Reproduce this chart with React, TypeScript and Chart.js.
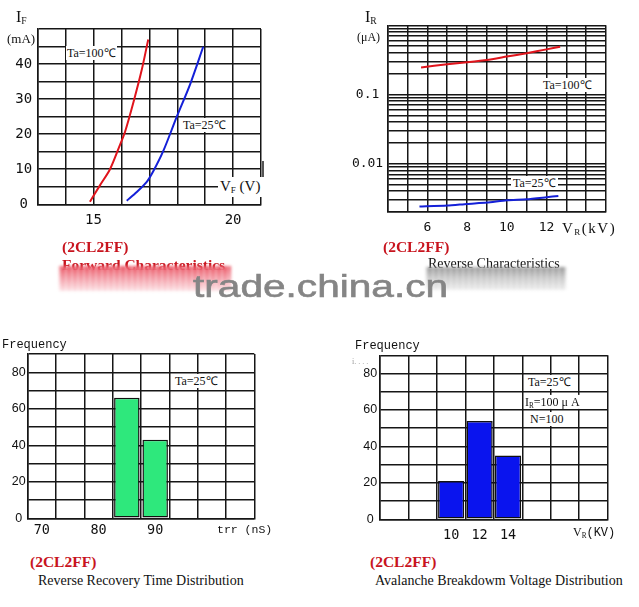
import React, { useEffect, useRef } from "react";
import Chart from "chart.js/auto";

// ---------- Forward characteristics (IF vs VF) ----------
const vfTicksShown = [15, 20];
const ifTicksShown = [0, 10, 20, 30, 40];
const vf100 = [14.87, 15.23, 15.59, 15.93, 16.13, 16.43, 16.73, 16.96];
const if100 = [0.7, 5.4, 10, 16.6, 20.7, 29.1, 38.4, 47];
const vf25 = [16.19, 16.55, 16.9, 17.14, 17.5, 17.98, 18.46, 18.93];
const if25 = [1.0, 3.5, 6.3, 9.4, 15.2, 24.9, 34.2, 44.9];

// ---------- Reverse characteristics (IR vs VR, log) ----------
const vrTicksShown = [6, 8, 10, 12];
const irGrid = [
  0.002, 0.003, 0.004, 0.005, 0.006, 0.007, 0.008, 0.009,
  0.01, 0.02, 0.03, 0.04, 0.05, 0.06, 0.07, 0.08, 0.09,
  0.1, 0.2, 0.3, 0.4, 0.5, 0.6, 0.7, 0.8, 0.9, 1,
];
const irTicksShown = [0.1, 0.01];
const vr100 = [5.68, 7, 8, 9, 10, 11, 12, 12.69];
const ir100 = [0.246, 0.274, 0.293, 0.316, 0.353, 0.394, 0.449, 0.49];
const vr25 = [5.6, 7, 8, 9, 10, 11, 12, 12.6];
const ir25 = [0.0024, 0.00248, 0.00262, 0.00274, 0.00296, 0.00306, 0.00327, 0.00341];

// ---------- Reverse recovery time distribution ----------
const trrBins = ["70", "75", "80", "85", "90", "95", "100", "105"];
const trrFreq = [null, null, null, 66, 43, null, null, null];
const trrTicksShown = ["70", "80", "90"];

// ---------- Avalanche breakdown voltage distribution ----------
const vbrBins = ["6", "8", "10", "12", "14", "16", "18", "20"];
const vbrFreq = [null, null, 21, 54, 35, null, null, null];
const vbrTicksShown = ["10", "12", "14"];

const freqTicksShown = [0, 20, 40, 60, 80];

const SERIF = "'Liberation Serif', 'Times New Roman', serif";
const SANS = "'Liberation Sans', Arial, sans-serif";
const MONO = "'DejaVu Sans Mono', monospace";
const CMONO = "'Liberation Mono', 'Courier New', monospace";
const GRID = "#161616";
const GW = 1.5;
const RED = "#c8141e";

const gridOpts = { color: GRID, lineWidth: GW, drawTicks: false };
const borderOpts = { color: GRID, width: GW };

function base(pad: { top: number; right: number }) {
  return {
    animation: false as const,
    responsive: false,
    events: [] as any[],
    layout: { padding: { left: 0, top: pad.top, right: pad.right, bottom: 0 } },
    plugins: { legend: { display: false }, tooltip: { enabled: false } },
  };
}

function forwardConfig(): any {
  return {
    type: "scatter",
    data: {
      datasets: [
        {
          data: vf100.map((x, i) => ({ x, y: if100[i] })),
          showLine: true,
          borderColor: "#e0141c",
          borderWidth: 2,
          pointRadius: 0,
          tension: 0.3,
        },
        {
          data: vf25.map((x, i) => ({ x, y: if25[i] })),
          showLine: true,
          borderColor: "#1420d8",
          borderWidth: 2,
          pointRadius: 0,
          tension: 0.3,
        },
      ],
    },
    options: {
      ...base({ top: 10, right: 14 }),
      scales: {
        x: {
          type: "linear",
          min: 13,
          max: 21,
          grid: gridOpts,
          border: borderOpts,
          ticks: {
            stepSize: 1,
            autoSkip: false,
            maxRotation: 0,
            padding: 7.3,
            color: "#111",
            font: { family: MONO, size: 14 },
            callback: (v: number) => (vfTicksShown.includes(v) ? String(v) : ""),
          },
          afterFit: (s: any) => {
            s.height = 40.7;
          },
        },
        y: {
          type: "linear",
          min: 0,
          max: 50,
          grid: gridOpts,
          border: borderOpts,
          ticks: {
            stepSize: 5,
            autoSkip: false,
            crossAlign: "center",
            padding: 5.5,
            color: "#111",
            font: { family: MONO, size: 14 },
            callback: (v: number) => (ifTicksShown.includes(v) ? String(v) : ""),
          },
          afterFit: (s: any) => {
            s.width = 37.7;
          },
        },
      },
    },
  };
}

function reverseConfig(): any {
  return {
    type: "scatter",
    data: {
      datasets: [
        {
          data: vr100.map((x, i) => ({ x, y: ir100[i] })),
          showLine: true,
          borderColor: "#e0141c",
          borderWidth: 2,
          pointRadius: 0,
          tension: 0.2,
        },
        {
          data: vr25.map((x, i) => ({ x, y: ir25[i] })),
          showLine: true,
          borderColor: "#1420d8",
          borderWidth: 2,
          pointRadius: 0,
          tension: 0.2,
        },
      ],
    },
    options: {
      ...base({ top: 10.3, right: 14 }),
      scales: {
        x: {
          type: "linear",
          min: 4,
          max: 15,
          grid: gridOpts,
          border: borderOpts,
          ticks: {
            stepSize: 1,
            autoSkip: false,
            maxRotation: 0,
            padding: 8.2,
            color: "#111",
            font: { family: MONO, size: 13 },
            callback: (v: number) => (vrTicksShown.includes(v) ? String(v) : ""),
          },
          afterFit: (s: any) => {
            s.height = 33;
          },
        },
        y: {
          type: "logarithmic",
          min: 0.002,
          max: 1,
          grid: gridOpts,
          border: borderOpts,
          afterBuildTicks: (s: any) => {
            s.ticks = irGrid.map((value) => ({ value }));
          },
          ticks: {
            autoSkip: false,
            crossAlign: "center",
            padding: 4.5,
            color: "#111",
            font: { family: MONO, size: 13 },
            callback: (v: number) => {
              const hit = irTicksShown.find((t) => Math.abs(t - v) < 1e-9);
              return hit !== undefined ? String(hit) : "";
            },
          },
          afterFit: (s: any) => {
            s.width = 47.7;
          },
        },
      },
    },
  };
}

function histConfig(
  labels: string[],
  values: (number | null)[],
  shown: string[],
  color: string,
  o: { right: number; yWidth: number; xHeight: number; xPad: number; yPad: number; barPct: number }
): any {
  return {
    type: "bar",
    data: {
      labels,
      datasets: [
        {
          data: values,
          backgroundColor: color,
          borderColor: "#111",
          borderWidth: 1.5,
          borderSkipped: false,
          barPercentage: o.barPct,
          categoryPercentage: 1,
        },
      ],
    },
    options: {
      ...base({ top: 10, right: o.right }),
      scales: {
        x: {
          grid: { ...gridOpts, offset: true },
          border: borderOpts,
          ticks: {
            autoSkip: false,
            maxRotation: 0,
            padding: o.xPad,
            color: "#111",
            font: { family: MONO, size: 13.5 },
            callback: function (this: any, v: number) {
              const lab = this.getLabelForValue(v);
              return shown.includes(lab) ? lab : "";
            },
          },
          afterFit: (s: any) => {
            s.height = o.xHeight;
          },
        },
        y: {
          min: 0,
          max: 90,
          grid: gridOpts,
          border: borderOpts,
          ticks: {
            stepSize: 10,
            autoSkip: false,
            crossAlign: "center",
            padding: o.yPad,
            color: "#111",
            font: { family: SANS, size: 12.5 },
            callback: (v: number) => (freqTicksShown.includes(v) ? String(v) : ""),
          },
          afterFit: (s: any) => {
            s.width = o.yWidth;
          },
        },
      },
    },
  };
}

function ChartCanvas(props: { left: number; top: number; width: number; height: number; make: () => any }) {
  const ref = useRef<HTMLCanvasElement>(null);
  useEffect(() => {
    const chart = new Chart(ref.current as HTMLCanvasElement, props.make());
    return () => chart.destroy();
  }, []);
  return (
    <canvas
      ref={ref}
      width={props.width}
      height={props.height}
      style={{ position: "absolute", left: props.left, top: props.top, width: props.width, height: props.height }}
    />
  );
}

function T(props: {
  x: number;
  y: number;
  size?: number;
  family?: string;
  color?: string;
  bg?: string;
  weight?: any;
  extra?: React.CSSProperties;
  children: React.ReactNode;
}) {
  return (
    <div
      style={{
        position: "absolute",
        left: props.x,
        top: props.y,
        transform: "translateY(-50%)",
        fontFamily: props.family ?? SERIF,
        fontSize: props.size ?? 12,
        lineHeight: 1,
        color: props.color ?? "#111",
        background: props.bg,
        fontWeight: props.weight ?? "normal",
        whiteSpace: "nowrap",
        ...props.extra,
      }}
    >
      {props.children}
    </div>
  );
}

const Sub = ({ c }: { c: string }) => (
  <span style={{ fontSize: "0.6em", position: "relative", top: "0.25em" }}>{c}</span>
);

const streaks = "repeating-linear-gradient(90deg, rgba(255,255,255,0.35) 0 2px, rgba(255,255,255,0) 2px 6px)";

export default function App() {
  return (
    <div
      style={{
        position: "absolute",
        left: 0,
        top: 0,
        width: 639,
        height: 607,
        background: "#fff",
        overflow: "hidden",
      }}
    >
      <ChartCanvas left={0} top={15} width={275} height={230} make={forwardConfig} />
      <ChartCanvas left={340} top={13} width={280} height={232} make={reverseConfig} />
      <ChartCanvas
        left={0}
        top={344}
        width={270}
        height={200}
        make={() =>
          histConfig(trrBins, trrFreq, trrTicksShown, "#2ee87c", {
            right: 15.7,
            yWidth: 27.7,
            xHeight: 25.7,
            xPad: 3.6,
            yPad: 2,
            barPct: 0.9,
          })
        }
      />
      <ChartCanvas
        left={340}
        top={345}
        width={285}
        height={200}
        make={() =>
          histConfig(vbrBins, vbrFreq, vbrTicksShown, "#0a14ee", {
            right: 17.3,
            yWidth: 40,
            xHeight: 25.7,
            xPad: 7.6,
            yPad: 2.8,
            barPct: 0.92,
          })
        }
      />

      {/* Forward characteristics annotations */}
      <T x={16} y={17} size={16}>
        I<Sub c="F" />
      </T>
      <T x={7} y={38} size={13}>(mA)</T>
      <T x={66} y={53} size={12} bg="#fff" extra={{ padding: "1px 1px" }}>Ta=100℃</T>
      <T x={182} y={125} size={12} bg="#fff" extra={{ padding: "1px 1px" }}>Ta=25℃</T>
      <T x={218} y={187} size={15} bg="#fff" extra={{ padding: "2px 3px 3px 2px" }}>
        V<Sub c="F" /> (V)
      </T>
      <div style={{ position: "absolute", left: 262, top: 161, width: 2, height: 16, background: "#555" }} />

      {/* Reverse characteristics annotations */}
      <T x={365} y={17} size={16}>
        I<Sub c="R" />
      </T>
      <T x={357} y={37} size={12}>(μA)</T>
      <T x={541} y={85} size={12} bg="#fff" extra={{ padding: "1px 2px" }}>Ta=100℃</T>
      <T x={511} y={183} size={12} bg="#fff" extra={{ padding: "1px 2px" }}>Ta=25℃</T>
      <T x={562} y={228} size={15} extra={{ letterSpacing: 1.5 }}>
        V<Sub c="R" />(kV)
      </T>

      {/* Recovery time histogram annotations */}
      <T x={2} y={345} size={12} family={CMONO}>Frequency</T>
      <T x={174} y={381} size={12} bg="#fff" extra={{ padding: "1px 1px" }}>Ta=25℃</T>
      <T x={217} y={530} size={11.5} family={CMONO}>trr (nS)</T>

      {/* Breakdown voltage histogram annotations */}
      <T x={355} y={346} size={12} family={CMONO}>Frequency</T>
      <T x={352} y={362} size={8} color="#999">i. . . .</T>
      <T x={527} y={382} size={12} bg="#fff" extra={{ padding: "1px 1px" }}>Ta=25℃</T>
      <T x={524} y={402} size={12} bg="#fff" extra={{ padding: "1px 1px" }}>
        I<Sub c="R" />=100 μ A
      </T>
      <T x={529} y={419} size={12} bg="#fff" extra={{ padding: "1px 1px" }}>N=100</T>
      <T x={573} y={532} size={12}>
        V<Sub c="R" />
        <span style={{ fontFamily: CMONO }}>(KV)</span>
      </T>

      {/* Captions */}
      <T x={62} y={247} size={15.5} color={RED} weight="bold">(2CL2FF)</T>
      <T x={62} y={265} size={15.5} color={RED} weight="bold">Forward Characteristics</T>
      <div
        style={{
          position: "absolute",
          left: 59,
          top: 266,
          width: 172,
          height: 25,
          background:
            streaks +
            ", linear-gradient(to bottom, rgba(232,70,86,0.95), rgba(240,125,138,0.8) 45%, rgba(250,200,206,0.55))",
          filter: "blur(1.5px)",
        }}
      />
      <T x={383} y={247} size={15.5} color={RED} weight="bold">(2CL2FF)</T>
      <T x={428} y={264} size={14}>Reverse Characteristics</T>
      <div
        style={{
          position: "absolute",
          left: 426,
          top: 267,
          width: 140,
          height: 23,
          background:
            streaks +
            ", linear-gradient(to bottom, rgba(140,140,140,0.9), rgba(180,180,180,0.75) 45%, rgba(222,222,222,0.55))",
          filter: "blur(1.5px)",
        }}
      />
      <div
        style={{
          position: "absolute",
          left: 193,
          top: 270.8,
          fontFamily: SANS,
          fontSize: 31,
          lineHeight: 1,
          color: "#858585",
          whiteSpace: "nowrap",
          transform: "scaleX(1.31)",
          transformOrigin: "left top",
          WebkitTextStroke: "0.6px #858585",
        }}
      >
        trade.china.cn
      </div>

      <T x={30} y={562} size={15.5} color={RED} weight="bold">(2CL2FF)</T>
      <T x={38} y={581} size={14}>Reverse Recovery Time Distribution</T>
      <T x={370} y={562} size={15.5} color={RED} weight="bold">(2CL2FF)</T>
      <T x={375} y={581} size={14}>Avalanche Breakdowm Voltage Distribution</T>
    </div>
  );
}
